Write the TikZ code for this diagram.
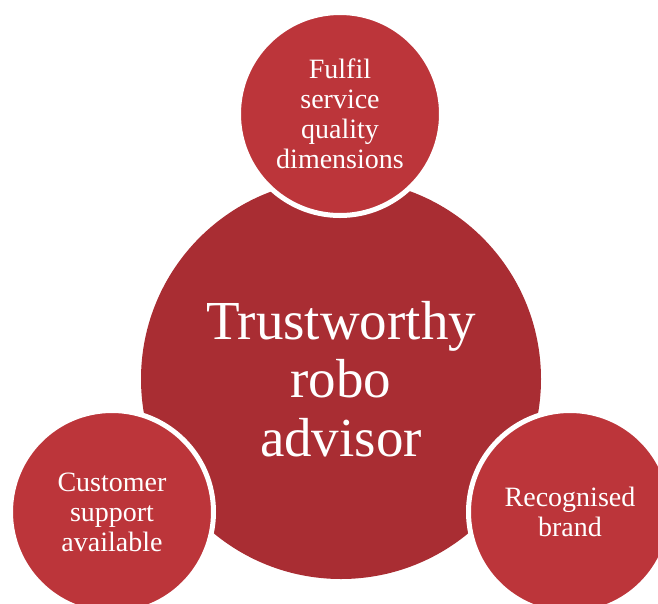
\documentclass[tikz,border=0pt]{standalone}
\usepackage{fontspec}
\setmainfont{Liberation Serif}
\usetikzlibrary{positioning}

\definecolor{hubred}{RGB}{169,45,51}
\definecolor{satred}{RGB}{188,53,58}

\begin{document}
\begin{tikzpicture}[
    x=1pt, y=-1pt,
    hub/.style={circle, fill=hubred, minimum size=400pt, inner sep=0pt, align=center, text=white,
        font=\fontsize{55}{58.5}\selectfont},
    sat/.style={circle, fill=satred, draw=white, line width=5pt, minimum size=203pt, inner sep=0pt,
        align=center, text=white, font=\fontsize{28}{30}\selectfont},
]

% Page
\useasboundingbox (0,0) rectangle (658,603);
\clip (0,0) rectangle (658,603);

% Centre
\node[hub] (hub) at (341,379) {Trustworthy\\robo\\advisor};

% Satellites
\node[sat] (quality) at (340,114) {Fulfil\\service\\quality\\dimensions};
\node[sat] (support) at (112,512) {Customer\\support\\available};
\node[sat] (brand) at (570,512) {Recognised\\brand};

\end{tikzpicture}
\end{document}
